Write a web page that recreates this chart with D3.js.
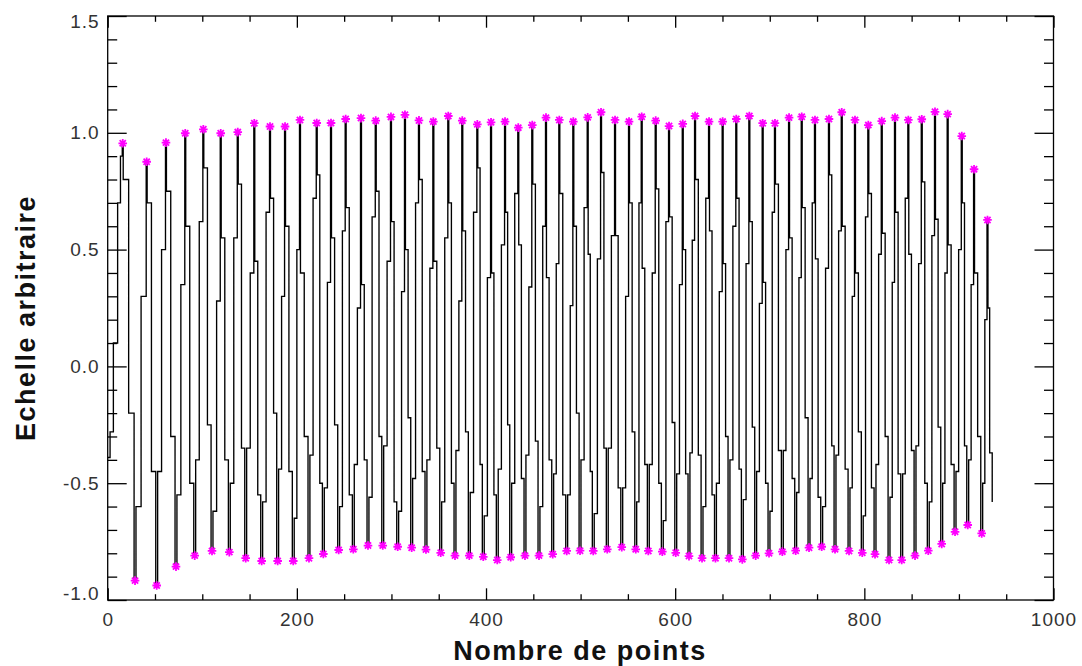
<!DOCTYPE html>
<html><head><meta charset="utf-8">
<script src="https://cdn.jsdelivr.net/npm/d3@7"></script>
<style>body{margin:0;background:#fff}</style>
</head><body><svg id="c" width="1082" height="666"></svg>
<script>
// ---- data ----
const xTickValues = [0, 200, 400, 600, 800, 1000];
const xTickLabels = ["0", "200", "400", "600", "800", "1000"];
const yTickValues = [-1.0, -0.5, 0.0, 0.5, 1.0, 1.5];
const yTickLabels = ["-1.0", "-0.5", "0.0", "0.5", "1.0", "1.5"];
const xTitle = "Nombre de points";
const yTitle = "Echelle arbitraire";

// maxima (magenta stars, top)
const maxX = [15.9,41.2,61.6,82.0,101.1,119.5,137.5,155.0,171.6,187.5,203.3,221.0,236.1,251.6,267.8,283.4,299.5,314.3,329.1,344.3,
  360.1,374.9,390.8,405.3,420.1,434.1,448.9,463.4,477.5,492.3,507.5,521.6,536.4,551.2,564.6,579.4,593.5,608.0,621.0,635.8,
  650.2,664.6,678.4,692.5,705.5,720.4,733.8,747.8,762.6,776.1,790.1,804.2,818.4,832.4,846.5,860.7,874.7,888.1,903.0,916.0,930.2];
const maxY = [0.955,0.876,0.958,0.998,1.015,0.998,1.003,1.041,1.027,1.027,1.055,1.042,1.042,1.059,1.063,1.052,1.068,1.077,1.053,1.048,
  1.072,1.052,1.036,1.045,1.048,1.022,1.033,1.065,1.055,1.048,1.066,1.088,1.055,1.048,1.069,1.052,1.029,1.038,1.072,1.048,
  1.048,1.059,1.072,1.041,1.041,1.065,1.069,1.055,1.059,1.088,1.055,1.033,1.050,1.065,1.055,1.058,1.090,1.080,0.986,0.844,0.627];
// minima (magenta stars, bottom)
const minX = [28.9,51.8,72.2,92.0,110.3,128.6,145.9,162.8,179.7,196.2,212.8,228.0,244.2,259.7,275.2,290.8,306.6,321.4,336.5,352.1,
  367.2,382.3,397.1,411.9,426.1,441.2,456.0,470.5,485.3,499.4,513.4,528.2,543.5,558.3,571.6,586.4,600.6,614.6,628.4,642.6,
  656.9,671.0,685.1,699.2,713.3,727.4,741.5,754.9,769.0,783.8,797.8,811.3,826.1,839.5,853.6,867.6,881.8,895.9,909.3,924.1];
const minY = [-0.917,-0.938,-0.857,-0.810,-0.790,-0.795,-0.821,-0.833,-0.833,-0.833,-0.821,-0.803,-0.786,-0.783,-0.767,-0.767,-0.772,-0.776,-0.784,-0.798,
  -0.810,-0.810,-0.815,-0.829,-0.817,-0.810,-0.810,-0.804,-0.790,-0.789,-0.790,-0.783,-0.774,-0.783,-0.790,-0.793,-0.798,-0.812,-0.821,-0.821,
  -0.821,-0.826,-0.810,-0.800,-0.793,-0.789,-0.776,-0.772,-0.783,-0.790,-0.798,-0.804,-0.829,-0.829,-0.810,-0.789,-0.760,-0.708,-0.679,-0.715];
// intermediate step levels of each falling half-cycle (max i -> min i)
const fallLevels = [[0.80,-0.20],[0.70,-0.45],[0.75,-0.30],[0.60,-0.50],[0.85,-0.25],[0.55,-0.40],[0.78,-0.35],[0.45,-0.55],[0.72,-0.20],[0.60,-0.45],
  [0.40,-0.30],[0.82,-0.50],[0.55,-0.25],[0.68,-0.55],[0.35,-0.40],[0.75,-0.30],[0.62,-0.58],[0.50,-0.22],[0.80,-0.45],[0.45,-0.35],
  [0.70,-0.50],[0.58,-0.28],[0.85,-0.42],[0.40,-0.55],[0.66,-0.25],[0.52,-0.48],[0.78,-0.32],[0.38,-0.40],[0.74,-0.55],[0.60,-0.20],
  [0.48,-0.45],[0.83,-0.35],[0.56,-0.52],[0.70,-0.28],[0.42,-0.42],[0.76,-0.50],[0.64,-0.24],[0.50,-0.46],[0.80,-0.38],[0.58,-0.55],
  [0.44,-0.30],[0.72,-0.44],[0.62,-0.26],[0.36,-0.50],[0.78,-0.36],[0.55,-0.48],[0.68,-0.22],[0.46,-0.56],[0.82,-0.34],[0.60,-0.44],
  [0.40,-0.28],[0.74,-0.52],[0.57,-0.30],[0.66,-0.46],[0.48,-0.36],[0.79,-0.50],[0.63,-0.26],[0.52,-0.42],[0.70,-0.34],[0.40,-0.30]];
// intermediate step levels of each rising half-cycle (min i -> max i+1)
const riseLevels = [[-0.60,0.30],[-0.45,0.50],[-0.55,0.35],[-0.40,0.62],[-0.62,0.28],[-0.50,0.55],[-0.35,0.40],[-0.58,0.66],[-0.44,0.30],[-0.65,0.50],
  [-0.38,0.72],[-0.52,0.36],[-0.60,0.58],[-0.42,0.25],[-0.56,0.64],[-0.34,0.45],[-0.62,0.32],[-0.48,0.70],[-0.40,0.42],[-0.58,0.55],
  [-0.36,0.28],[-0.54,0.66],[-0.64,0.38],[-0.44,0.52],[-0.50,0.74],[-0.38,0.34],[-0.60,0.60],[-0.46,0.44],[-0.55,0.26],[-0.40,0.68],
  [-0.63,0.46],[-0.35,0.56],[-0.52,0.30],[-0.58,0.70],[-0.42,0.40],[-0.66,0.62],[-0.46,0.35],[-0.37,0.54],[-0.60,0.72],[-0.50,0.32],
  [-0.40,0.60],[-0.57,0.44],[-0.45,0.27],[-0.62,0.66],[-0.36,0.50],[-0.54,0.38],[-0.48,0.70],[-0.60,0.42],[-0.38,0.58],[-0.52,0.30],
  [-0.64,0.64],[-0.42,0.48],[-0.56,0.36],[-0.46,0.72],[-0.34,0.44],[-0.58,0.56],[-0.50,0.40],[-0.45,0.50],[-0.40,0.35],[-0.50,0.20]];
// beginning and end of the trace
const startX = [0, 2.5, 6, 10.5, 13.5];
const startY = [-0.39, -0.28, 0.10, 0.70, 0.90];
const endX = [930.7, 932.5, 935.2];
const endY = [0.25, -0.37, -0.58];

// ---- drawing ----
const W = 1082, H = 666;
const svg = d3.select("#c");
svg.append("rect").attr("width", W).attr("height", H).attr("fill", "#fff");
const x = d3.scaleLinear().domain([0, 1000]).range([107.7, 1053.5]);
const y = d3.scaleLinear().domain([-1, 1.5]).range([600, 16]);

// build stepped trace vertices from the read values
const pts = [];
startX.forEach((v, i) => pts.push([v, startY[i]]));
const peakW = 1.0, troughW = 2.0;
maxX.forEach((xm, i) => {
  pts.push([xm - peakW / 2, maxY[i]]);
  if (i < minX.length) {
    const a = xm + peakW / 2, b = minX[i] - troughW / 2;
    pts.push([a, fallLevels[i][0]]);
    pts.push([(a + b) / 2, fallLevels[i][1]]);
    pts.push([b, minY[i]]);
    const a2 = minX[i] + troughW / 2, b2 = maxX[i + 1] - peakW / 2;
    pts.push([a2, riseLevels[i][0]]);
    pts.push([(a2 + b2) / 2, riseLevels[i][1]]);
  }
});
endX.forEach((v, i) => pts.push([v, endY[i]]));

const line = d3.line().x(d => x(d[0])).y(d => y(d[1])).curve(d3.curveStepAfter);
svg.append("path").datum(pts).attr("d", line)
  .attr("fill", "none").attr("stroke", "#000").attr("stroke-width", 1.35);

// markers (asterisks)
const r = 4.3, rd = r * 0.72;
const star = `M0,${-r}V${r}M${-r},0H${r}M${-rd},${-rd}L${rd},${rd}M${-rd},${rd}L${rd},${-rd}`;
const marks = maxX.map((v, i) => [v, maxY[i]]).concat(minX.map((v, i) => [v, minY[i]]));
svg.append("g").selectAll("path").data(marks).join("path")
  .attr("transform", d => `translate(${x(d[0])},${y(d[1])})`)
  .attr("d", star).attr("stroke", "#ff00ff").attr("stroke-width", 1.8).attr("fill", "none");

// axes
const xMinor = d3.range(0, 1001, 50).filter(v => v % 200 !== 0);
const yMinor = d3.range(-10, 16, 1).map(v => v / 10).filter(v => Math.abs(v * 2 - Math.round(v * 2)) > 1e-6);
const tickStyle = g => {
  g.select(".domain").remove();
  g.selectAll("line").attr("stroke", "#000").attr("stroke-width", 1.3);
  g.selectAll("text").attr("font-family", "'Liberation Sans', Arial, sans-serif")
    .attr("font-size", 19).attr("fill", "#333").attr("letter-spacing", "1px");
};
const majX = 11.7, minXlen = 5.8, majY = 19, minYlen = 9.5;
svg.append("g").attr("transform", `translate(0,${y(-1)})`)
  .call(d3.axisBottom(x).tickValues(xTickValues).tickSize(-majX).tickSizeOuter(0).tickPadding(13)
    .tickFormat((d, i) => xTickLabels[i])).call(tickStyle);
svg.append("g").attr("transform", `translate(0,${y(-1)})`)
  .call(d3.axisBottom(x).tickValues(xMinor).tickSize(-minXlen).tickSizeOuter(0).tickFormat("")).call(tickStyle);
svg.append("g").attr("transform", `translate(0,${y(1.5)})`)
  .call(d3.axisTop(x).tickValues(xTickValues).tickSize(-majX).tickSizeOuter(0).tickFormat("")).call(tickStyle);
svg.append("g").attr("transform", `translate(0,${y(1.5)})`)
  .call(d3.axisTop(x).tickValues(xMinor).tickSize(-minXlen).tickSizeOuter(0).tickFormat("")).call(tickStyle);
const yl = svg.append("g").attr("transform", `translate(${x(0)},0)`)
  .call(d3.axisLeft(y).tickValues(yTickValues).tickSize(-majY).tickSizeOuter(0).tickPadding(8)
    .tickFormat((d, i) => yTickLabels[i])).call(tickStyle);
svg.append("g").attr("transform", `translate(${x(0)},0)`)
  .call(d3.axisLeft(y).tickValues(yMinor).tickSize(-minYlen).tickSizeOuter(0).tickFormat("")).call(tickStyle);
svg.append("g").attr("transform", `translate(${x(1000)},0)`)
  .call(d3.axisRight(y).tickValues(yTickValues).tickSize(-majY).tickSizeOuter(0).tickFormat("")).call(tickStyle);
svg.append("g").attr("transform", `translate(${x(1000)},0)`)
  .call(d3.axisRight(y).tickValues(yMinor).tickSize(-minYlen).tickSizeOuter(0).tickFormat("")).call(tickStyle);
// end labels nudged inside like the original
yl.selectAll(".tick text").attr("dy", (d) => d === 1.5 ? "0.62em" : d === -1.0 ? "-0.05em" : "0.32em");

// frame
svg.append("rect").attr("x", x(0)).attr("y", y(1.5)).attr("width", x(1000) - x(0)).attr("height", y(-1) - y(1.5))
  .attr("fill", "none").attr("stroke", "#000").attr("stroke-width", 1.3);

// titles
svg.append("text").attr("x", 580).attr("y", 660).attr("text-anchor", "middle")
  .attr("font-family", "'Liberation Sans', Arial, sans-serif").attr("font-weight", "bold")
  .attr("font-size", 27).attr("letter-spacing", "1.5px").attr("fill", "#111").text(xTitle);
svg.append("text").attr("transform", "translate(35,318) rotate(-90)").attr("text-anchor", "middle")
  .attr("font-family", "'Liberation Sans', Arial, sans-serif").attr("font-weight", "bold")
  .attr("font-size", 27).attr("letter-spacing", "1.5px").attr("fill", "#111").text(yTitle);
</script></body></html>
